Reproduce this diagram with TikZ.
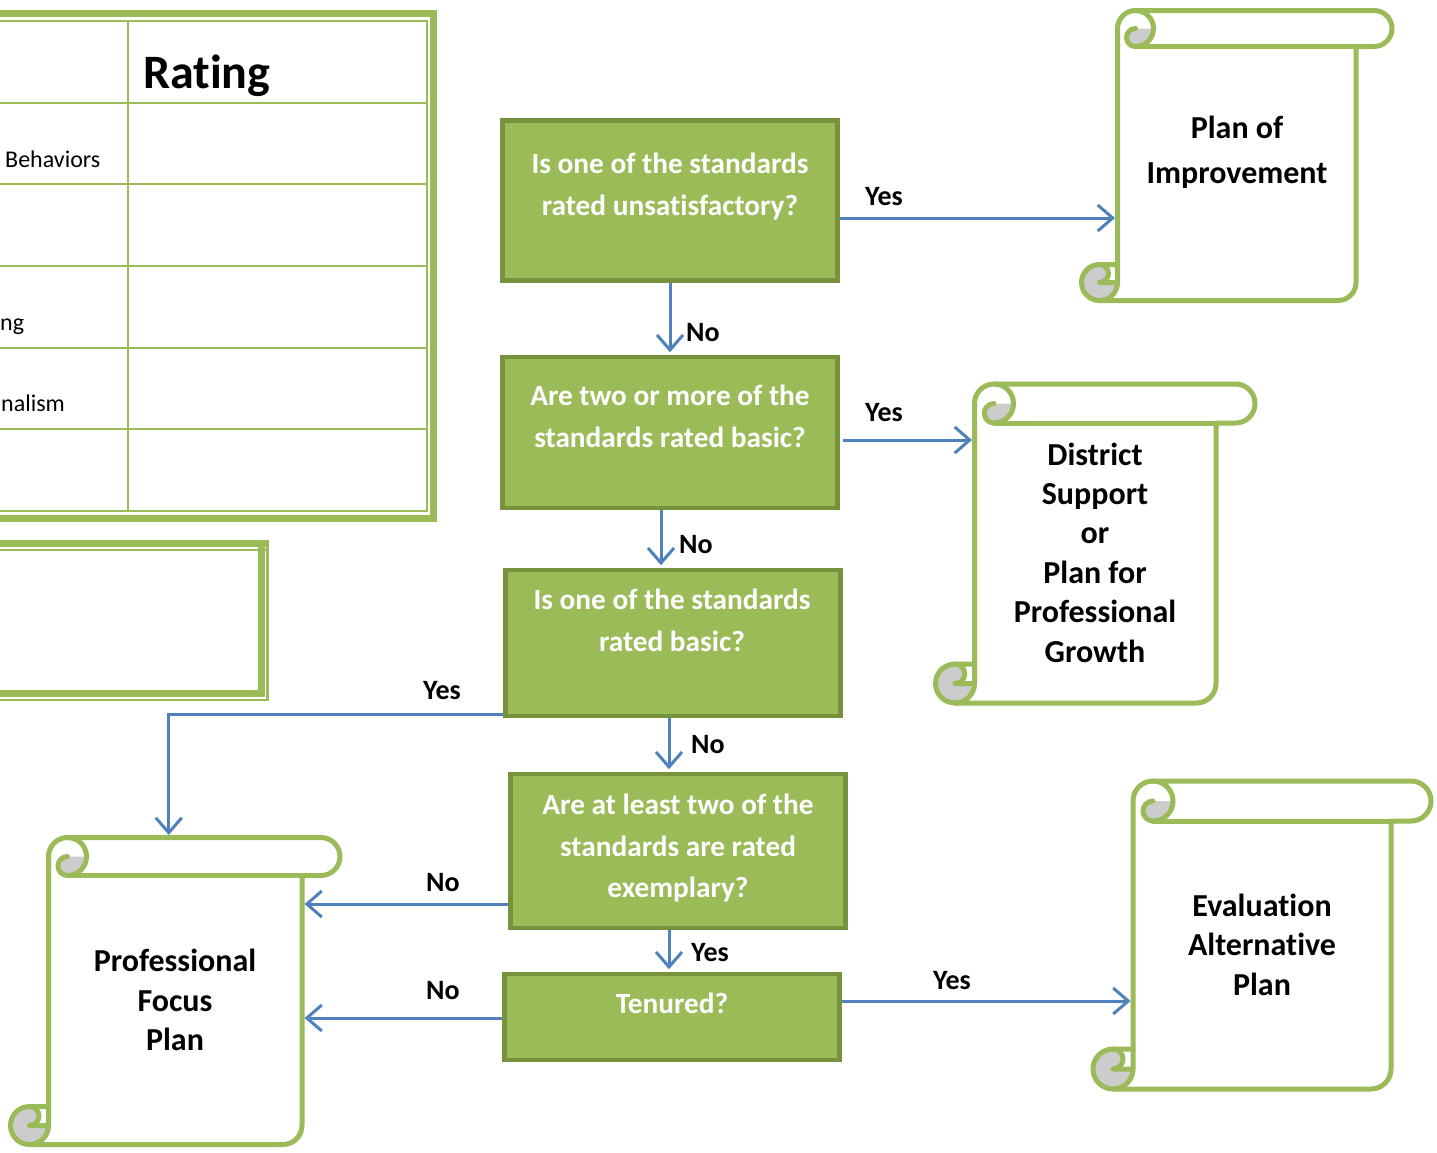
\documentclass[tikz,border=0pt]{standalone}
\usepackage{fontspec}
\setmainfont{Carlito}[Ligatures=NoCommon]
\usetikzlibrary{arrows.meta,positioning,calc}

\definecolor{leaf}{HTML}{9BBB59}
\definecolor{leafdark}{HTML}{76923C}
\definecolor{arrowblue}{HTML}{4F81BD}
\definecolor{curlgray}{HTML}{CCCCCC}

\tikzset{
  question/.style={draw=leafdark, fill=leaf, line width=4.5pt, minimum width=335pt, inner sep=0pt},
  qtext/.style={text=white, font=\bfseries\fontsize{29.3}{42}\selectfont, align=center, inner sep=0pt},
  ptext/.style={font=\bfseries\fontsize{32}{39.4}\selectfont, align=center, inner sep=0pt},
  answer/.style={font=\bfseries\fontsize{28}{30}\selectfont, inner sep=0pt, anchor=west},
  tabletext/.style={font=\fontsize{24}{26}\selectfont, inner sep=0pt, anchor=base west},
  flow/.style={draw=arrowblue, line width=3pt, shorten >=2.5pt, -{Straight Barb[length=15pt,width=26pt]}},
  scrollline/.style={draw=leaf, line width=5pt, line join=round, line cap=round},
  thickframe/.style={draw=leaf, line width=7pt},
  thinframe/.style={draw=leaf, line width=2.2pt},
}

% scroll: name, left, top, right, bottom, roll height
\newcommand\scrollshape[6]{%
  \pgfmathsetmacro\scrL{#2}\pgfmathsetmacro\scrT{#3}%
  \pgfmathsetmacro\scrR{#4}\pgfmathsetmacro\scrB{#5}%
  \pgfmathsetmacro\scrC{#6}\pgfmathsetmacro\scrH{#6/2}\pgfmathsetmacro\scrQ{#6/4}%
  \pgfmathsetmacro\scrXa{\scrL+\scrC}%
  \pgfmathsetmacro\scrXb{\scrL+1.5*\scrC}%
  \pgfmathsetmacro\scrXc{\scrR-\scrC}%
  \pgfmathsetmacro\scrXd{\scrR-\scrH}%
  \pgfmathsetmacro\scrYa{\scrB-\scrC}%
  \pgfmathsetmacro\scrYb{\scrB-\scrH}%
  % paper
  \fill[white] (\scrL+\scrH,\scrB) arc[start angle=90,end angle=0,radius=\scrH]
    -- (\scrXa,\scrT+\scrH) arc[start angle=180,end angle=270,radius=\scrH]
    -- (\scrXd,\scrT) arc[start angle=270,end angle=450,radius=\scrH]
    -- (\scrXc,\scrT+\scrC) -- (\scrXc,\scrYb) arc[start angle=0,end angle=90,radius=\scrH] -- cycle;
  % curls
  \fill[curlgray] (\scrXb+\scrH,\scrT+\scrH) arc[start angle=0,end angle=90,radius=\scrH]
    arc[start angle=90,end angle=270,radius=\scrQ] -- cycle;
  \fill[curlgray] (\scrXa,\scrYb) arc[start angle=0,end angle=270,radius=\scrH]
    arc[start angle=270,end angle=450,radius=\scrQ] -- cycle;
  % outline
  \draw[scrollline] (\scrXa,\scrYa) -- (\scrXa,\scrT+\scrH) arc[start angle=180,end angle=270,radius=\scrH]
    -- (\scrXd,\scrT) arc[start angle=270,end angle=450,radius=\scrH]
    -- (\scrXc,\scrT+\scrC) -- (\scrXc,\scrYb) arc[start angle=0,end angle=90,radius=\scrH]
    -- (\scrL+\scrH,\scrB) arc[start angle=90,end angle=270,radius=\scrH] -- cycle;
  \draw[scrollline] (\scrXb,\scrT) arc[start angle=270,end angle=450,radius=\scrH]
    arc[start angle=90,end angle=270,radius=\scrQ];
  \draw[scrollline] (\scrXc,\scrT+\scrC) -- (\scrXb,\scrT+\scrC);
  \draw[scrollline] (\scrL+\scrH,\scrYa) arc[start angle=270,end angle=450,radius=\scrQ] -- (\scrXa,\scrYb);
  \draw[scrollline] (\scrL+\scrH,\scrB) arc[start angle=90,end angle=0,radius=\scrH] -- (\scrXa,\scrYa);
  % connector ends
  \coordinate (#1-left) at (\scrXa,\scrYb);
  \coordinate (#1-right) at (\scrXc,\scrYb);
  \coordinate (#1-top) at ({(\scrXa+\scrXc)/2},\scrT);
}

\begin{document}
\begin{tikzpicture}[x=1pt,y=-1pt]
  \clip (0,0) rectangle (1437,1152);
  \fill[white] (0,0) rectangle (1437,1152);

  % rating table
  \draw[thickframe] (-20,13.5) -- (433.5,13.5) -- (433.5,518.5) -- (-20,518.5);
  \draw[thinframe] (-20,21) -- (427,21) -- (427,511) -- (-20,511);
  \foreach \y in {102.7,184.3,266,347.7,429.3}
    \draw[thinframe] (-20,\y) -- (427,\y);
  \draw[thinframe] (128,21) -- (128,511);
  \node (rating) [anchor=base west, inner sep=0pt, font=\bfseries\fontsize{48}{50}\selectfont] at (143,88) {Rating};
  \node (behav) [tabletext] at (5,167) {Behaviors};
  \node (plan) [tabletext] at (0,330) {ng};
  \node (prof) [tabletext] at (1,411) {nalism};

  % lower box
  \draw[thickframe] (-20,543.5) -- (269,543.5);
  \draw[thickframe] (261,543.5) -- (261,693) -- (-20,693);
  \draw[thinframe] (-20,550) -- (267.5,550);
  \draw[thinframe] (267.5,547) -- (267.5,700) -- (-20,700);

  % questions
  \node (q1) [question, minimum height=160pt] at (670,200.5) {};
  \node (q1t) [qtext] at (670,187) {Is one of the standards\\rated unsatisfactory?};
  \node (q2) [question, minimum height=151pt] at (670,432.5) {};
  \node (q2t) [qtext] at (670,416) {Are two or more of the\\standards rated basic?};
  \node (q3) [question, minimum height=146pt] at (673,643) {};
  \node (q3t) [qtext] at (672,620) {Is one of the standards\\rated basic?};
  \node (q4) [question, minimum height=154pt] at (678,851) {};
  \node (q4t) [qtext, font=\bfseries\fontsize{29.3}{41.5}\selectfont] at (678,848.5) {Are at least two of the\\standards are rated\\exemplary?};
  \node (q5) [question, minimum height=86pt] at (672,1017) {};
  \node (q5t) [qtext] at (672,1003.5) {Tenured?};

  % plans
  \scrollshape{poi}{1081.5}{10.5}{1392}{300.5}{36}
  \node (poit) [ptext, font=\bfseries\fontsize{32}{45}\selectfont] at (1237,152) {Plan of\\Improvement};
  \scrollshape{dsp}{935.5}{384}{1255}{703}{39}
  \node (dspt) [ptext] at (1095,552.5) {District\\Support\\or\\Plan for\\Professional\\Growth};
  \scrollshape{eap}{1093}{781}{1431}{1089}{40}
  \node (eapt) [ptext] at (1262,944.5) {Evaluation\\Alternative\\Plan};
  \scrollshape{pfp}{10.5}{837.5}{340}{1144.5}{38}
  \node (pfpt) [ptext] at (175,1000) {Professional\\Focus\\Plan};

  % connectors
  \draw[flow] (q1.south) -- (q2.north);
  \coordinate (c2) at ([yshift=-17.5pt]q1.east);
  \draw[flow] (c2) -- (c2 -| poi-left);
  \coordinate (c3) at ([xshift=3pt,yshift=-7.5pt]q2.east);
  \draw[flow] (c3) -- (c3 -| dsp-left);
  \coordinate (c4) at ([xshift=-9pt]q2.south);
  \draw[flow] (c4) -- (c4 |- q3.north);
  \coordinate (c5) at ([xshift=-4pt]q3.south);
  \draw[flow] (c5) -- (c5 |- q4.north);
  \coordinate (c6) at ([yshift=-71pt]q3.west);
  \draw[flow] (c6) -| ([xshift=-6.5pt]pfp-top);
  \coordinate (c7) at ([yshift=-53pt]q4.west);
  \draw[flow] (c7) -- (c7 -| pfp-right);
  \coordinate (c8) at ([xshift=-9pt]q4.south);
  \draw[flow] (c8) -- (c8 |- q5.north);
  \coordinate (c9) at ([yshift=-1pt]q5.west);
  \draw[flow] (c9) -- (c9 -| pfp-right);
  \coordinate (c10) at ([yshift=16pt]q5.east);
  \draw[flow] (c10) -- (c10 -| eap-left);

  % answers
  \node (n1) [answer] at (686,333) {No};
  \node (y2) [answer] at (865,197) {Yes};
  \node (y3) [answer] at (865,413) {Yes};
  \node (n4) [answer] at (679,545) {No};
  \node (n5) [answer] at (691,745) {No};
  \node (y6) [answer] at (423,691) {Yes};
  \node (n7) [answer] at (426,883) {No};
  \node (y8) [answer] at (691,953) {Yes};
  \node (n9) [answer] at (426,991) {No};
  \node (y10) [answer] at (933,981) {Yes};
\end{tikzpicture}
\end{document}
